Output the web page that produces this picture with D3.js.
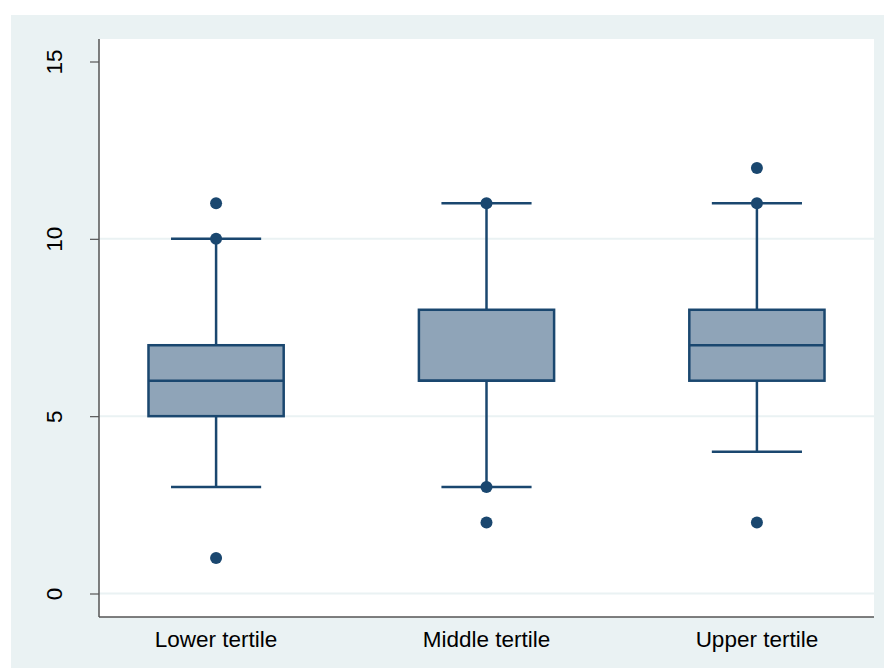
<!DOCTYPE html>
<html>
<head>
<meta charset="utf-8">
<script src="https://cdn.jsdelivr.net/npm/d3@7"></script>
<style>
  body { margin: 0; background: #fff; }
  text { font-family: "Liberation Sans", Arial, sans-serif; }
</style>
</head>
<body>
<div id="chart"></div>
<script>
//box plot by tertile, Stata s2color look

//data
var groups = ["Lower tertile", "Middle tertile", "Upper tertile"];
var q1 = [5, 6, 6];
var medians = [6, 6, 7];
var q3 = [7, 8, 8];
var whiskerLow = [3, 3, 4];
var whiskerHigh = [10, 11, 11];
var outliers = [[11, 10, 1], [11, 3, 2], [12, 11, 2]];
var yTicks = [0, 5, 10, 15];

var W = 884, H = 668;
var plot = {left: 99, right: 874, top: 39, bottom: 617};
var navy = "#1a476f";
var boxFill = "#8fa4b8";
var bgColor = "#eaf2f3";
var fontSize = 22.5;

var svg = d3.select("#chart").append("svg")
  .attr("width", W).attr("height", H);

//outer graph region
svg.append("rect")
  .attr("x", 11).attr("y", 15)
  .attr("width", W - 11).attr("height", H - 15)
  .attr("fill", bgColor);

//plot region
svg.append("rect")
  .attr("x", plot.left).attr("y", plot.top)
  .attr("width", plot.right - plot.left).attr("height", plot.bottom - plot.top)
  .attr("fill", "#fff");

var y = d3.scaleLinear().domain([0, 15]).range([593.5, 61.5]);
var x = d3.scalePoint().domain(groups).range([plot.left, plot.right]).padding(0.433);
var step = x.step();
var boxW = step * 0.5;
var capW = step / 3;

//grid lines (no line at the top tick)
svg.append("g").selectAll("line")
  .data(yTicks.slice(0, 3)).enter()
  .append("line")
  .attr("x1", plot.left).attr("x2", plot.right)
  .attr("y1", function(d) { return y(d); })
  .attr("y2", function(d) { return y(d); })
  .attr("stroke", bgColor).attr("stroke-width", 2);

//y axis
var yAxis = d3.axisLeft(y).tickValues(yTicks).tickSize(9).tickPadding(0).tickFormat(d3.format("d"));
var gy = svg.append("g")
  .attr("transform", "translate(" + plot.left + ",0)")
  .call(yAxis);
gy.select(".domain").remove();
gy.selectAll(".tick line").attr("stroke", "#555").attr("stroke-width", 1.2);
gy.selectAll(".tick text")
  .attr("x", null).attr("dy", null)
  .attr("text-anchor", "middle")
  .attr("transform", "translate(-37,0) rotate(-90)")
  .attr("font-size", fontSize).attr("fill", "#000");

//axis lines
svg.append("line")
  .attr("x1", plot.left).attr("x2", plot.left)
  .attr("y1", plot.top).attr("y2", plot.bottom)
  .attr("stroke", "#555").attr("stroke-width", 1.5);
svg.append("line")
  .attr("x1", plot.left).attr("x2", plot.right)
  .attr("y1", plot.bottom).attr("y2", plot.bottom)
  .attr("stroke", "#555").attr("stroke-width", 1.5);

//category labels
svg.append("g").selectAll("text")
  .data(groups).enter()
  .append("text")
  .attr("x", function(d) { return x(d); })
  .attr("y", 647)
  .attr("text-anchor", "middle")
  .attr("font-size", fontSize)
  .text(function(d) { return d; });

var boxes = svg.append("g").selectAll("g")
  .data(groups).enter()
  .append("g");

//whiskers
boxes.append("line")
  .attr("x1", function(d) { return x(d); }).attr("x2", function(d) { return x(d); })
  .attr("y1", function(d, i) { return y(whiskerLow[i]); })
  .attr("y2", function(d, i) { return y(whiskerHigh[i]); })
  .attr("stroke", navy).attr("stroke-width", 2.5);

//caps
[whiskerLow, whiskerHigh].forEach(function(arr) {
  boxes.append("line")
    .attr("x1", function(d) { return x(d) - capW / 2; })
    .attr("x2", function(d) { return x(d) + capW / 2; })
    .attr("y1", function(d, i) { return y(arr[i]); })
    .attr("y2", function(d, i) { return y(arr[i]); })
    .attr("stroke", navy).attr("stroke-width", 2.5);
});

//boxes
boxes.append("rect")
  .attr("x", function(d) { return x(d) - boxW / 2; })
  .attr("y", function(d, i) { return y(q3[i]); })
  .attr("width", boxW)
  .attr("height", function(d, i) { return y(q1[i]) - y(q3[i]); })
  .attr("fill", boxFill).attr("stroke", navy).attr("stroke-width", 2.5);

//medians
boxes.append("line")
  .attr("x1", function(d) { return x(d) - boxW / 2; })
  .attr("x2", function(d) { return x(d) + boxW / 2; })
  .attr("y1", function(d, i) { return y(medians[i]); })
  .attr("y2", function(d, i) { return y(medians[i]); })
  .attr("stroke", navy).attr("stroke-width", 2.5);

//outside values
boxes.each(function(d, i) {
  d3.select(this).selectAll("circle")
    .data(outliers[i]).enter()
    .append("circle")
    .attr("cx", x(d))
    .attr("cy", function(v) { return y(v); })
    .attr("r", 6)
    .attr("fill", navy);
});
</script>
</body>
</html>
